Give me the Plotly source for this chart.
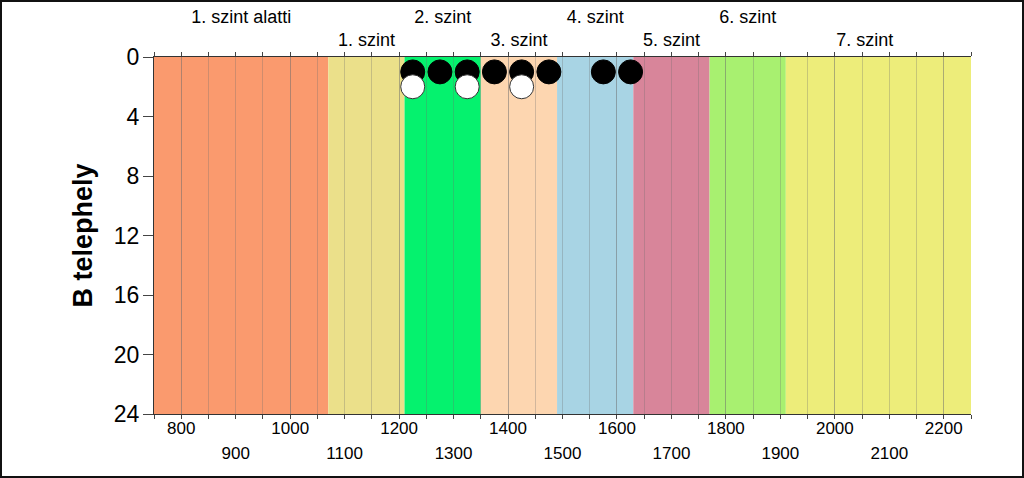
import plotly.graph_objects as go

# ---- data ----
band_edges = [750, 1070, 1210, 1350, 1490, 1630, 1770, 1910, 2250]
band_colors = ["#FA9A6E", "#EBE08A", "#05F26E", "#FDD6B0", "#A8D4E4",
               "#D8859A", "#A8F070", "#EDED7A"]
top_row1_labels = ["1. szint alatti", "2. szint", "4. szint", "6. szint"]
top_row1_x = [910, 1280, 1560, 1840]
top_row2_labels = ["1. szint", "3. szint", "5. szint", "7. szint"]
top_row2_x = [1140, 1420, 1700, 2055]

bottom_row1_ticks = [800, 1000, 1200, 1400, 1600, 1800, 2000, 2200]
bottom_row2_ticks = [900, 1100, 1300, 1500, 1700, 1900, 2100]
y_ticks = [0, 4, 8, 12, 16, 20, 24]

black_x = [1225, 1275, 1325, 1375, 1425, 1475, 1575, 1625]
black_y = [1, 1, 1, 1, 1, 1, 1, 1]
white_x = [1225, 1325, 1425]
white_y = [2, 2, 2]

FONT = "Liberation Sans, Arial, sans-serif"
x_range = [750, 2250]
GRID = "rgba(110,110,110,0.3)"

fig = go.Figure()
fig.add_trace(go.Scatter(x=black_x, y=black_y, mode="markers",
                         marker=dict(size=24, color="black",
                                     line=dict(color="black", width=1)),
                         showlegend=False, hoverinfo="skip"))
fig.add_trace(go.Scatter(x=white_x, y=white_y, mode="markers",
                         marker=dict(size=24, color="white",
                                     line=dict(color="#333333", width=1)),
                         showlegend=False, hoverinfo="skip"))
# empty traces to activate overlay axes
fig.add_trace(go.Scatter(x=[], y=[], xaxis="x2", showlegend=False))
fig.add_trace(go.Scatter(x=[], y=[], xaxis="x3", showlegend=False))
fig.add_trace(go.Scatter(x=[], y=[], xaxis="x4", showlegend=False))

shapes = []
for i, c in enumerate(band_colors):
    shapes.append(dict(type="rect", xref="x", yref="y",
                       x0=band_edges[i], x1=band_edges[i + 1], y0=0, y1=24,
                       fillcolor=c, line=dict(width=0), layer="below"))

W, H = 1024, 478
ml, mr, mt, mb = 154, 53, 57, 64
pw, ph = W - ml - mr, H - mt - mb
shapes.append(dict(type="rect", xref="paper", yref="paper",
                   x0=-ml / pw, x1=1 + mr / pw, y0=-mb / ph, y1=1 + mt / ph,
                   line=dict(color="#111111", width=4), layer="above"))

fig.update_layout(
    width=W, height=H,
    margin=dict(l=ml, r=mr, t=mt, b=mb, pad=0, autoexpand=False),
    paper_bgcolor="white", plot_bgcolor="white",
    font=dict(family=FONT, color="black"),
    shapes=shapes,
    annotations=[dict(text="<b>B telephely</b>", xref="paper", yref="paper",
                      x=(82 - ml) / pw, y=0.5, xanchor="center",
                      yanchor="middle", textangle=-90, showarrow=False,
                      font=dict(size=27, family=FONT, color="black"))],
    xaxis=dict(range=x_range, tickmode="array", tickvals=bottom_row1_ticks,
               ticktext=[str(v) for v in bottom_row1_ticks],
               ticks="outside", ticklen=4, tickcolor="#444",
               showline=True, linecolor="#333", linewidth=1,
               showgrid=True, gridcolor=GRID, gridwidth=1,
               minor=dict(tick0=750, dtick=50, ticks="outside", ticklen=4,
                          tickcolor="#444", showgrid=True,
                          gridcolor=GRID, gridwidth=1),
               ticklabelstandoff=-5, automargin=False,
               tickfont=dict(size=17), zeroline=False, fixedrange=True),
    xaxis3=dict(range=x_range, overlaying="x", side="bottom",
                tickmode="array", tickvals=bottom_row2_ticks,
                ticktext=[str(v) for v in bottom_row2_ticks],
                ticks="", ticklabelstandoff=27, showgrid=False,
                automargin=False,
                showline=False, zeroline=False, tickfont=dict(size=17)),
    xaxis2=dict(range=x_range, overlaying="x", side="top",
                tickmode="array", tickvals=top_row2_x, ticktext=top_row2_labels,
                ticks="", showgrid=False, showline=True, linecolor="#333",
                linewidth=1, ticklabelstandoff=3, zeroline=False,
                automargin=False,
                minor=dict(tick0=750, dtick=50, ticks="outside", ticklen=4,
                           tickcolor="#444", showgrid=False),
                tickfont=dict(size=18)),
    xaxis4=dict(range=x_range, overlaying="x", side="top",
                tickmode="array", tickvals=top_row1_x, ticktext=top_row1_labels,
                ticks="", showgrid=False, showline=False, zeroline=False,
                automargin=False,
                ticklabelstandoff=29, tickfont=dict(size=18)),
    yaxis=dict(range=[24, 0], tickmode="array", tickvals=y_ticks,
               ticks="outside", ticklen=10, tickcolor="#444",
               showline=True, linecolor="#333", linewidth=1,
               showgrid=False, zeroline=False, ticklabelstandoff=-1,
               automargin=False,
               tickfont=dict(size=23)),
)

fig.write_html("out.html",
               config={"displayModeBar": False},
               post_script="document.body.style.margin='0';"
                           "document.body.style.overflow='hidden';")
